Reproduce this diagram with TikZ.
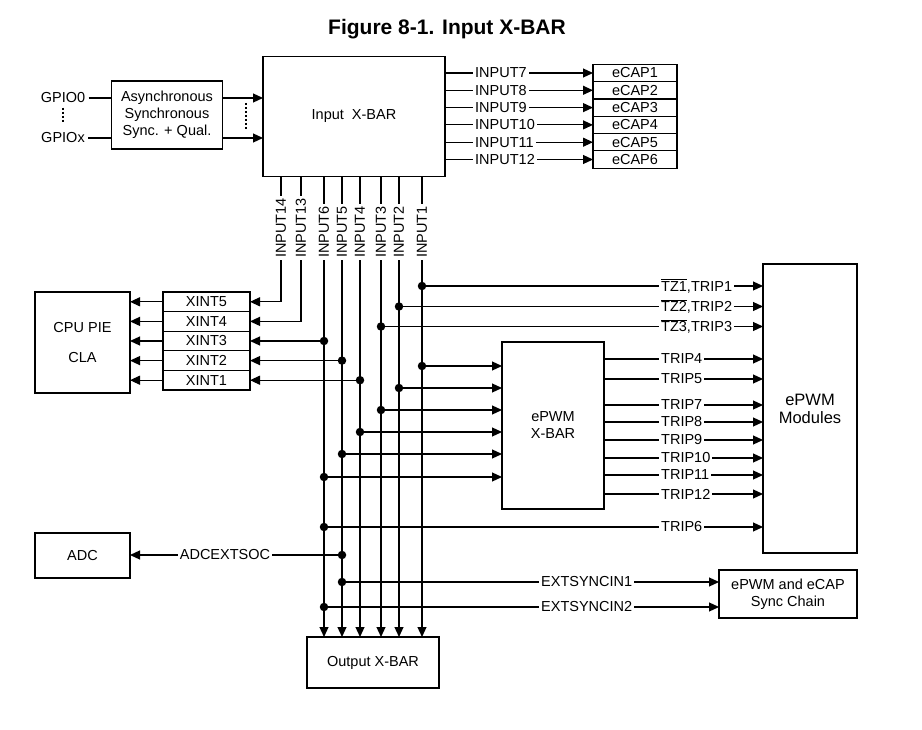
\documentclass[tikz,border=0pt]{standalone}
\usepackage{fontspec}
\setmainfont{Liberation Sans}
\usetikzlibrary{arrows.meta, positioning}

\begin{document}
\begin{tikzpicture}[
        x=1pt, y=-1pt,
        node distance=0pt and 0pt,
        font=\fontsize{14.5}{17}\selectfont,
        blk/.style={rectangle, draw, line width=1.2pt, align=center, inner sep=0pt, outer sep=0pt},
        ecap/.style={blk, minimum width=84pt, minimum height=17.3pt},
        xint/.style={blk, minimum width=87pt, minimum height=19.6pt},
        lbl/.style={fill=white, inner sep=2pt},
        vlbl/.style={lbl, rotate=90, anchor=west},
        junc/.style={circle, fill, inner sep=0pt, minimum size=8.5pt},
        wire/.style={line width=1.2pt},
        arr/.style={-{Triangle[length=10pt, width=9pt]}, line width=1.2pt},
        dotline/.style={line width=1.2pt, dash pattern=on 2pt off 2pt}
    ]
        \useasboundingbox (0,0) rectangle (922,730);

        % Title
        \node[font=\fontsize{21}{24}\selectfont\bfseries] (title) at (447,29) {Figure 8-1. Input X-BAR};

        % GPIO inputs and qualification
        \node (gpio0) at (63,98) {GPIO0};
        \node (gpiox) at (63,138) {GPIOx};
        \node[blk, minimum width=111pt, minimum height=68pt] (qual) at (167,115) {Asynchronous\\Synchronous\\Sync. + Qual.};
        \node[blk, minimum width=182pt, minimum height=120pt] (ixbar) at (354,116.5) {Input~~X-BAR};

        \draw[wire] (gpio0) -- (gpio0 -| qual.west);
        \draw[wire] (gpiox) -- (gpiox -| qual.west);
        \draw[dotline, shorten <=1pt, shorten >=6pt] (gpio0.south) -- (gpiox.north);
        \draw[arr] (gpio0 -| qual.east) -- (gpio0 -| ixbar.west);
        \draw[arr] (gpiox -| qual.east) -- (gpiox -| ixbar.west);
        \coordinate (q1) at (246,103);
        \coordinate (q2) at (246,130);
        \draw[dotline] (q1) -- (q2);

        % eCAP column
        \node[ecap] (ecap1) at (635,73) {eCAP1};
        \node[ecap, below=of ecap1] (ecap2) {eCAP2};
        \node[ecap, below=of ecap2] (ecap3) {eCAP3};
        \node[ecap, below=of ecap3] (ecap4) {eCAP4};
        \node[ecap, below=of ecap4] (ecap5) {eCAP5};
        \node[ecap, below=of ecap5] (ecap6) {eCAP6};

        \draw[arr] (ecap1 -| ixbar.east) -- (ecap1.west);
        \draw[arr] (ecap2 -| ixbar.east) -- (ecap2.west);
        \draw[arr] (ecap3 -| ixbar.east) -- (ecap3.west);
        \draw[arr] (ecap4 -| ixbar.east) -- (ecap4.west);
        \draw[arr] (ecap5 -| ixbar.east) -- (ecap5.west);
        \draw[arr] (ecap6 -| ixbar.east) -- (ecap6.west);
        \node[lbl, anchor=west] (in7) at (473,73) {INPUT7};
        \node[lbl, anchor=west] (in8) at (473,90.3) {INPUT8};
        \node[lbl, anchor=west] (in9) at (473,107.6) {INPUT9};
        \node[lbl, anchor=west] (in10) at (473,124.9) {INPUT10};
        \node[lbl, anchor=west] (in11) at (473,142.2) {INPUT11};
        \node[lbl, anchor=west] (in12) at (473,159.5) {INPUT12};

        % CPU PIE / CLA and XINT column
        \node[blk, minimum width=95pt, minimum height=101pt] (cpu) at (82.5,342.5) {CPU PIE\\[13pt]CLA};
        \node[xint] (xint5) at (206.5,301.8) {XINT5};
        \node[xint, below=of xint5] (xint4) {XINT4};
        \node[xint, below=of xint4] (xint3) {XINT3};
        \node[xint, below=of xint3] (xint2) {XINT2};
        \node[xint, below=of xint2] (xint1) {XINT1};

        \draw[arr] (xint5.west) -- (xint5.west -| cpu.east);
        \draw[arr] (xint4.west) -- (xint4.west -| cpu.east);
        \draw[arr] (xint3.west) -- (xint3.west -| cpu.east);
        \draw[arr] (xint2.west) -- (xint2.west -| cpu.east);
        \draw[arr] (xint1.west) -- (xint1.west -| cpu.east);

        % Other blocks
        \node[blk, minimum width=102pt, minimum height=167pt] (exbar) at (553,425.5) {ePWM\\X-BAR};
        \node[blk, minimum width=94pt, minimum height=289pt, font=\fontsize{16.5}{18}\selectfont] (epwm) at (810,408.5) {ePWM\\Modules};
        \node[blk, minimum width=95pt, minimum height=45pt] (adc) at (82.5,555.5) {ADC};
        \node[blk, minimum width=138pt, minimum height=48pt] (chain) at (788,594) {ePWM and eCAP\\Sync Chain};
        \node[blk, minimum width=132pt, minimum height=51pt] (oxbar) at (373,662.5) {Output X-BAR};

        % Input X-BAR outputs
        \coordinate (p14) at (281,176.5);
        \coordinate (p13) at (301,176.5);
        \coordinate (p6) at (324,176.5);
        \coordinate (p5) at (342,176.5);
        \coordinate (p4) at (360,176.5);
        \coordinate (p3) at (381,176.5);
        \coordinate (p2) at (399,176.5);
        \coordinate (p1) at (422,176.5);

        \draw[arr] (p14) |- (xint5.east);
        \draw[arr] (p13) |- (xint4.east);
        \draw[arr] (p6) -- (p6 |- oxbar.north);
        \draw[arr] (p5) -- (p5 |- oxbar.north);
        \draw[arr] (p4) -- (p4 |- oxbar.north);
        \draw[arr] (p3) -- (p3 |- oxbar.north);
        \draw[arr] (p2) -- (p2 |- oxbar.north);
        \draw[arr] (p1) -- (p1 |- oxbar.north);

        \node[vlbl] (v14) at (281,260) {INPUT14};
        \node[vlbl] (v13) at (301,260) {INPUT13};
        \node[vlbl] (v6) at (324,260) {INPUT6};
        \node[vlbl] (v5) at (342,260) {INPUT5};
        \node[vlbl] (v4) at (360,260) {INPUT4};
        \node[vlbl] (v3) at (381,260) {INPUT3};
        \node[vlbl] (v2) at (399,260) {INPUT2};
        \node[vlbl] (v1) at (422,260) {INPUT1};

        % Branches to XINT
        \node[junc] (d6a) at (324,341) {};
        \node[junc] (d5a) at (342,360.6) {};
        \node[junc] (d4a) at (360,380.2) {};
        \draw[arr] (d6a) -- (d6a -| xint3.east);
        \draw[arr] (d5a) -- (d5a -| xint2.east);
        \draw[arr] (d4a) -- (d4a -| xint1.east);

        % Trip zone inputs
        \node[junc] (d1a) at (422,286) {};
        \node[junc] (d2a) at (399,306.5) {};
        \node[junc] (d3a) at (381,326.5) {};
        \draw[arr] (d1a) -- (d1a -| epwm.west);
        \draw[arr] (d2a) -- (d2a -| epwm.west);
        \draw[arr] (d3a) -- (d3a -| epwm.west);
        \node[lbl, anchor=west] (tz1) at (659,286) {$\overline{\mbox{TZ1}}$,TRIP1};
        \node[lbl, anchor=west] (tz2) at (659,306.5) {$\overline{\mbox{TZ2}}$,TRIP2};
        \node[lbl, anchor=west] (tz3) at (659,326.5) {$\overline{\mbox{TZ3}}$,TRIP3};

        % ePWM X-BAR inputs
        \node[junc] (d1b) at (422,366) {};
        \node[junc] (d2b) at (399,388) {};
        \node[junc] (d3b) at (381,410) {};
        \node[junc] (d4b) at (360,432) {};
        \node[junc] (d5b) at (342,454) {};
        \node[junc] (d6b) at (324,477) {};
        \draw[arr] (d1b) -- (d1b -| exbar.west);
        \draw[arr] (d2b) -- (d2b -| exbar.west);
        \draw[arr] (d3b) -- (d3b -| exbar.west);
        \draw[arr] (d4b) -- (d4b -| exbar.west);
        \draw[arr] (d5b) -- (d5b -| exbar.west);
        \draw[arr] (d6b) -- (d6b -| exbar.west);

        % ePWM X-BAR outputs
        \coordinate (t4) at (604,359);
        \coordinate (t5) at (604,379);
        \coordinate (t7) at (604,405);
        \coordinate (t8) at (604,422);
        \coordinate (t9) at (604,440);
        \coordinate (t10) at (604,458);
        \coordinate (t11) at (604,475);
        \coordinate (t12) at (604,494);
        \draw[arr] (t4) -- (t4 -| epwm.west);
        \draw[arr] (t5) -- (t5 -| epwm.west);
        \draw[arr] (t7) -- (t7 -| epwm.west);
        \draw[arr] (t8) -- (t8 -| epwm.west);
        \draw[arr] (t9) -- (t9 -| epwm.west);
        \draw[arr] (t10) -- (t10 -| epwm.west);
        \draw[arr] (t11) -- (t11 -| epwm.west);
        \draw[arr] (t12) -- (t12 -| epwm.west);
        \node[lbl, anchor=west] (trip4) at (659,359) {TRIP4};
        \node[lbl, anchor=west] (trip5) at (659,379) {TRIP5};
        \node[lbl, anchor=west] (trip7) at (659,405) {TRIP7};
        \node[lbl, anchor=west] (trip8) at (659,422) {TRIP8};
        \node[lbl, anchor=west] (trip9) at (659,440) {TRIP9};
        \node[lbl, anchor=west] (trip10) at (659,458) {TRIP10};
        \node[lbl, anchor=west] (trip11) at (659,475) {TRIP11};
        \node[lbl, anchor=west] (trip12) at (659,494) {TRIP12};

        % TRIP6, ADC and sync chain
        \node[junc] (d6c) at (324,527) {};
        \node[junc] (d5c) at (342,555) {};
        \node[junc] (d5d) at (342,582) {};
        \node[junc] (d6d) at (324,607) {};
        \draw[arr] (d6c) -- (d6c -| epwm.west);
        \draw[arr] (d5c) -- (d5c -| adc.east);
        \draw[arr] (d5d) -- (d5d -| chain.west);
        \draw[arr] (d6d) -- (d6d -| chain.west);
        \node[lbl, anchor=west] (trip6) at (659,527) {TRIP6};
        \node[lbl] (soc) at (225,555) {ADCEXTSOC};
        \node[lbl, anchor=west] (sync1) at (539,582) {EXTSYNCIN1};
        \node[lbl, anchor=west] (sync2) at (539,607) {EXTSYNCIN2};
    \end{tikzpicture}
\end{document}
